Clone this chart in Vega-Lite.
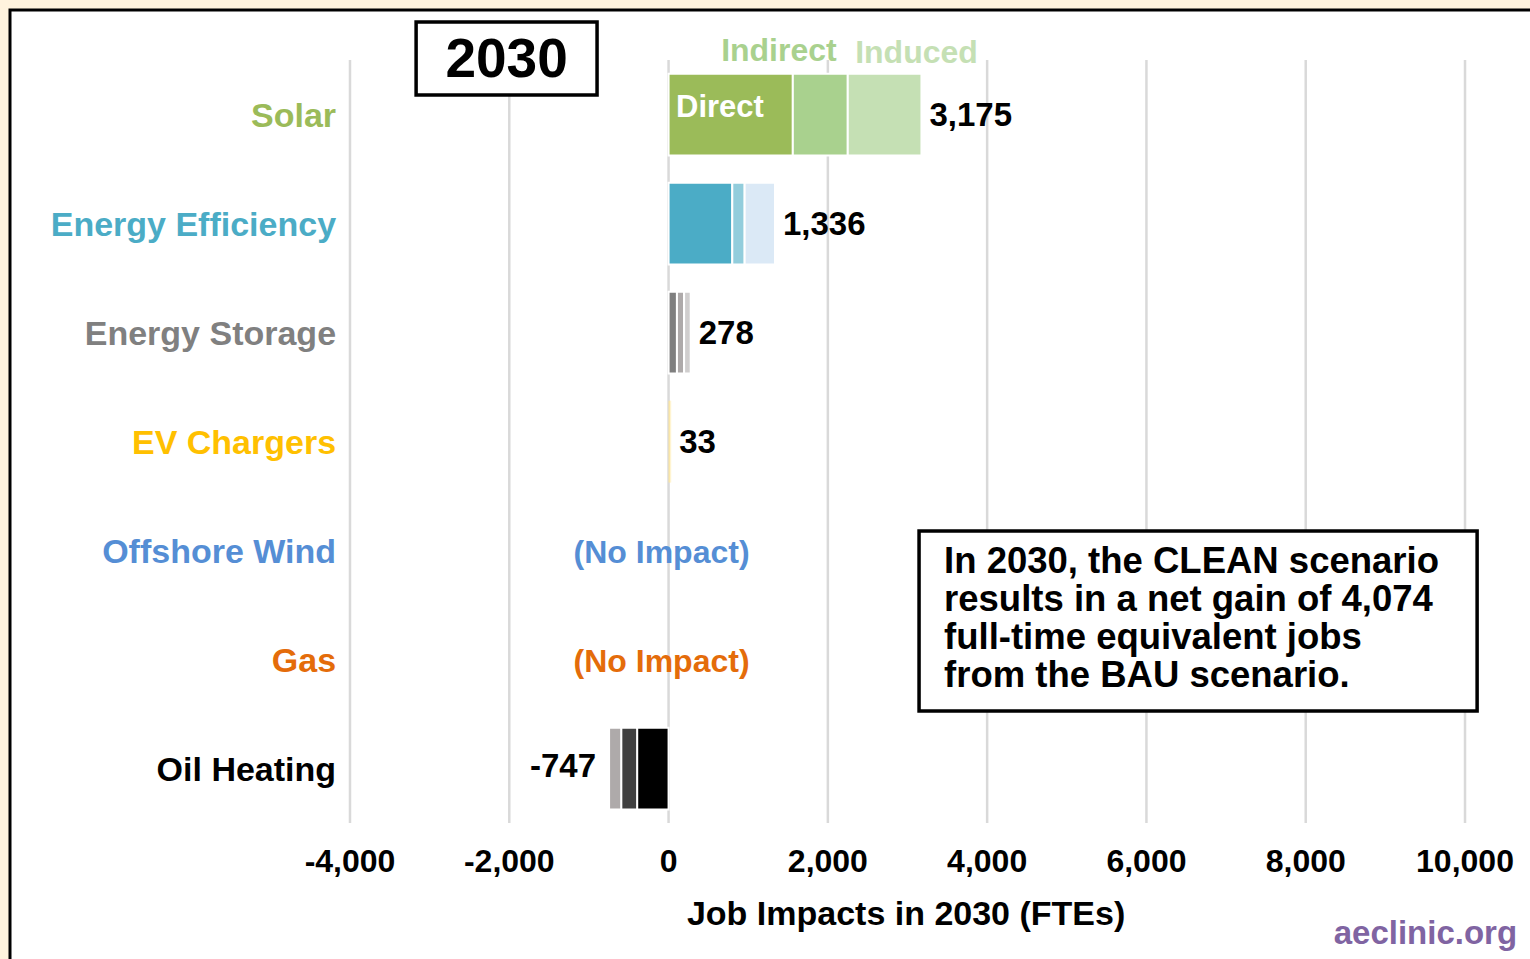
{
  "$schema": "https://vega.github.io/schema/vega-lite/v6.json",
  "autosize": {"type": "none"},
  "width": 1520,
  "height": 949,
  "padding": {"left": 10, "top": 10, "right": 0, "bottom": 0},
  "background": "#fff3dd",
  "config": {
    "view": {"fill": "#ffffff", "stroke": "#000000", "strokeWidth": 3, "strokeDash": [1520, 2469, 949, 10]},
    "font": "Liberation Sans",
    "text": {"font": "Liberation Sans", "fontWeight": "bold"},
    "locale": {"number": {"decimal": ".", "thousands": ",", "grouping": [3], "currency": ["$", ""], "minus": "-"}}
  },
  "datasets": {
    "bars": [
      {"cat": "Solar", "type": "Direct", "value": 1560},
      {"cat": "Solar", "type": "Indirect", "value": 690},
      {"cat": "Solar", "type": "Induced", "value": 925},
      {"cat": "Energy Efficiency", "type": "Direct", "value": 800},
      {"cat": "Energy Efficiency", "type": "Indirect", "value": 155},
      {"cat": "Energy Efficiency", "type": "Induced", "value": 381},
      {"cat": "Energy Storage", "type": "Direct", "value": 105},
      {"cat": "Energy Storage", "type": "Indirect", "value": 90},
      {"cat": "Energy Storage", "type": "Induced", "value": 83},
      {"cat": "EV Chargers", "type": "Direct", "value": 15},
      {"cat": "EV Chargers", "type": "Indirect", "value": 8},
      {"cat": "EV Chargers", "type": "Induced", "value": 10},
      {"cat": "Oil Heating", "type": "Direct", "value": -395},
      {"cat": "Oil Heating", "type": "Indirect", "value": -200},
      {"cat": "Oil Heating", "type": "Induced", "value": -152}
    ],
    "totals": [
      {"cat": "Solar", "total": 3175},
      {"cat": "Energy Efficiency", "total": 1336},
      {"cat": "Energy Storage", "total": 278},
      {"cat": "EV Chargers", "total": 33},
      {"cat": "Oil Heating", "total": -747}
    ],
    "cats": [
      {"cat": "Solar"},
      {"cat": "Energy Efficiency"},
      {"cat": "Energy Storage"},
      {"cat": "EV Chargers"},
      {"cat": "Offshore Wind"},
      {"cat": "Gas"},
      {"cat": "Oil Heating"}
    ],
    "noimpact": [
      {"cat": "Offshore Wind", "label": "(No Impact)"},
      {"cat": "Gas", "label": "(No Impact)"}
    ],
    "ticks": [
      {"tick": -4000}, {"tick": -2000}, {"tick": 0}, {"tick": 2000},
      {"tick": 4000}, {"tick": 6000}, {"tick": 8000}, {"tick": 10000}
    ],
    "notes": [
      {"id": "year", "label": "2030"},
      {"id": "summary", "label": "In 2030, the CLEAN scenario\nresults in a net gain of 4,074\nfull-time equivalent jobs\nfrom the BAU scenario."},
      {"id": "direct", "label": "Direct"},
      {"id": "indirect", "label": "Indirect"},
      {"id": "induced", "label": "Induced"},
      {"id": "xtitle", "label": "Job Impacts in 2030 (FTEs)"},
      {"id": "site", "label": "aeclinic.org"}
    ]
  },
  "resolve": {"scale": {"color": "independent"}},
  "layer": [
    {
      "data": {"name": "ticks"},
      "mark": {"type": "rule", "color": "#d9d9d9", "strokeWidth": 2.5},
      "encoding": {
        "x": {"field": "tick", "type": "quantitative",
          "scale": {"domain": [-8269, 10816], "nice": false, "zero": false}, "axis": null},
        "y": {"datum": "Solar", "type": "nominal", "bandPosition": -0.166,
          "scale": {"domain": ["Solar", "Energy Efficiency", "Energy Storage", "EV Chargers", "Offshore Wind", "Gas", "Oil Heating"], "range": [50, 813], "paddingInner": 0.25, "paddingOuter": 0.125}, "axis": null},
        "y2": {"datum": "Oil Heating", "bandPosition": 1.166}
      }
    },
    {
      "data": {"name": "ticks"},
      "mark": {"type": "text", "align": "center", "baseline": "middle", "dy": 93.5, "fontSize": 32, "color": "#000000"},
      "encoding": {
        "x": {"field": "tick", "type": "quantitative", "scale": {"domain": [-8269, 10816], "nice": false, "zero": false}, "axis": null},
        "y": {"datum": "Oil Heating", "type": "nominal",
          "scale": {"domain": ["Solar", "Energy Efficiency", "Energy Storage", "EV Chargers", "Offshore Wind", "Gas", "Oil Heating"], "range": [50, 813], "paddingInner": 0.25, "paddingOuter": 0.125}, "axis": null},
        "text": {"field": "tick", "type": "quantitative", "format": ","}
      }
    },
    {
      "data": {"name": "notes"},
      "transform": [{"filter": "datum.id == 'xtitle'"}],
      "mark": {"type": "text", "align": "center", "baseline": "middle", "dy": 146.5, "fontSize": 34, "color": "#000000"},
      "encoding": {
        "x": {"datum": 2982, "type": "quantitative", "scale": {"domain": [-8269, 10816], "nice": false, "zero": false}, "axis": null},
        "y": {"datum": "Oil Heating", "type": "nominal",
          "scale": {"domain": ["Solar", "Energy Efficiency", "Energy Storage", "EV Chargers", "Offshore Wind", "Gas", "Oil Heating"], "range": [50, 813], "paddingInner": 0.25, "paddingOuter": 0.125}, "axis": null},
        "text": {"field": "label", "type": "nominal"}
      }
    },
    {
      "data": {"name": "bars"},
      "transform": [{"calculate": "datum.cat + '|' + datum.type", "as": "seg"}],
      "mark": {"type": "bar", "stroke": "#ffffff"},
      "encoding": {
        "x": {"field": "value", "type": "quantitative", "stack": "zero", "scale": {"domain": [-8269, 10816], "nice": false, "zero": false}, "axis": null},
        "y": {"field": "cat", "type": "nominal",
          "scale": {"domain": ["Solar", "Energy Efficiency", "Energy Storage", "EV Chargers", "Offshore Wind", "Gas", "Oil Heating"], "range": [50, 813], "paddingInner": 0.25, "paddingOuter": 0.125}, "axis": null},
        "order": {"field": "type", "sort": "ascending"},
        "strokeWidth": {"condition": {"test": "datum.cat == 'EV Chargers'", "value": 0}, "value": 2},
        "color": {"field": "seg", "type": "nominal", "legend": null,
          "scale": {
            "domain": ["Solar|Direct", "Solar|Indirect", "Solar|Induced",
              "Energy Efficiency|Direct", "Energy Efficiency|Indirect", "Energy Efficiency|Induced",
              "Energy Storage|Direct", "Energy Storage|Indirect", "Energy Storage|Induced",
              "EV Chargers|Direct", "EV Chargers|Indirect", "EV Chargers|Induced",
              "Oil Heating|Direct", "Oil Heating|Indirect", "Oil Heating|Induced"],
            "range": ["#9bbb59", "#a9d18e", "#c5e0b4",
              "#4bacc6", "#92cddc", "#dbe9f6",
              "#7f7f7f", "#aeaaaa", "#d0cece",
              "#ffe699", "#ffeaa6", "#fff2cc",
              "#000000", "#404040", "#aeaaaa"]}}
      }
    },
    {
      "data": {"name": "totals"},
      "transform": [{"filter": "datum.total >= 0"}],
      "mark": {"type": "text", "align": "left", "baseline": "middle", "dx": 8, "dy": 1, "fontSize": 33, "color": "#000000"},
      "encoding": {
        "x": {"field": "total", "type": "quantitative", "scale": {"domain": [-8269, 10816], "nice": false, "zero": false}, "axis": null},
        "y": {"field": "cat", "type": "nominal",
          "scale": {"domain": ["Solar", "Energy Efficiency", "Energy Storage", "EV Chargers", "Offshore Wind", "Gas", "Oil Heating"], "range": [50, 813], "paddingInner": 0.25, "paddingOuter": 0.125}, "axis": null},
        "text": {"field": "total", "type": "quantitative", "format": ","}
      }
    },
    {
      "data": {"name": "totals"},
      "transform": [{"filter": "datum.total < 0"}],
      "mark": {"type": "text", "align": "right", "baseline": "middle", "dx": -13, "dy": -2, "fontSize": 33, "color": "#000000"},
      "encoding": {
        "x": {"field": "total", "type": "quantitative", "scale": {"domain": [-8269, 10816], "nice": false, "zero": false}, "axis": null},
        "y": {"field": "cat", "type": "nominal",
          "scale": {"domain": ["Solar", "Energy Efficiency", "Energy Storage", "EV Chargers", "Offshore Wind", "Gas", "Oil Heating"], "range": [50, 813], "paddingInner": 0.25, "paddingOuter": 0.125}, "axis": null},
        "text": {"field": "total", "type": "quantitative", "format": ","}
      }
    },
    {
      "data": {"name": "cats"},
      "mark": {"type": "text", "align": "right", "baseline": "middle", "dy": 2, "fontSize": 34},
      "encoding": {
        "x": {"datum": -4175, "type": "quantitative", "scale": {"domain": [-8269, 10816], "nice": false, "zero": false}, "axis": null},
        "y": {"field": "cat", "type": "nominal",
          "scale": {"domain": ["Solar", "Energy Efficiency", "Energy Storage", "EV Chargers", "Offshore Wind", "Gas", "Oil Heating"], "range": [50, 813], "paddingInner": 0.25, "paddingOuter": 0.125}, "axis": null},
        "text": {"field": "cat", "type": "nominal"},
        "color": {"field": "cat", "type": "nominal", "legend": null,
          "scale": {"domain": ["Solar", "Energy Efficiency", "Energy Storage", "EV Chargers", "Offshore Wind", "Gas", "Oil Heating"],
            "range": ["#9bbb59", "#4bacc6", "#808080", "#ffc000", "#558ed5", "#e46c0a", "#000000"]}}
      }
    },
    {
      "data": {"name": "noimpact"},
      "mark": {"type": "text", "align": "center", "baseline": "middle", "dx": -7, "dy": 2, "fontSize": 32},
      "encoding": {
        "x": {"datum": 0, "type": "quantitative", "scale": {"domain": [-8269, 10816], "nice": false, "zero": false}, "axis": null},
        "y": {"field": "cat", "type": "nominal",
          "scale": {"domain": ["Solar", "Energy Efficiency", "Energy Storage", "EV Chargers", "Offshore Wind", "Gas", "Oil Heating"], "range": [50, 813], "paddingInner": 0.25, "paddingOuter": 0.125}, "axis": null},
        "text": {"field": "label", "type": "nominal"},
        "color": {"field": "cat", "type": "nominal", "legend": null,
          "scale": {"domain": ["Solar", "Energy Efficiency", "Energy Storage", "EV Chargers", "Offshore Wind", "Gas", "Oil Heating"],
            "range": ["#9bbb59", "#4bacc6", "#808080", "#ffc000", "#558ed5", "#e46c0a", "#000000"]}}
      }
    },
    {
      "data": {"name": "notes"},
      "transform": [{"filter": "datum.id == 'direct'"}],
      "mark": {"type": "text", "align": "left", "baseline": "middle", "dy": -7, "fontSize": 31, "color": "#ffffff"},
      "encoding": {
        "x": {"datum": 94, "type": "quantitative", "scale": {"domain": [-8269, 10816], "nice": false, "zero": false}, "axis": null},
        "y": {"datum": "Solar", "type": "nominal",
          "scale": {"domain": ["Solar", "Energy Efficiency", "Energy Storage", "EV Chargers", "Offshore Wind", "Gas", "Oil Heating"], "range": [50, 813], "paddingInner": 0.25, "paddingOuter": 0.125}, "axis": null},
        "text": {"field": "label", "type": "nominal"}
      }
    },
    {
      "data": {"name": "notes"},
      "transform": [{"filter": "datum.id == 'indirect'"}],
      "mark": {"type": "text", "align": "left", "baseline": "middle", "dy": -64, "fontSize": 32, "color": "#a9d18e"},
      "encoding": {
        "x": {"datum": 660, "type": "quantitative", "scale": {"domain": [-8269, 10816], "nice": false, "zero": false}, "axis": null},
        "y": {"datum": "Solar", "type": "nominal",
          "scale": {"domain": ["Solar", "Energy Efficiency", "Energy Storage", "EV Chargers", "Offshore Wind", "Gas", "Oil Heating"], "range": [50, 813], "paddingInner": 0.25, "paddingOuter": 0.125}, "axis": null},
        "text": {"field": "label", "type": "nominal"}
      }
    },
    {
      "data": {"name": "notes"},
      "transform": [{"filter": "datum.id == 'induced'"}],
      "mark": {"type": "text", "align": "left", "baseline": "middle", "dy": -62, "fontSize": 32, "color": "#c5e0b4"},
      "encoding": {
        "x": {"datum": 2343, "type": "quantitative", "scale": {"domain": [-8269, 10816], "nice": false, "zero": false}, "axis": null},
        "y": {"datum": "Solar", "type": "nominal",
          "scale": {"domain": ["Solar", "Energy Efficiency", "Energy Storage", "EV Chargers", "Offshore Wind", "Gas", "Oil Heating"], "range": [50, 813], "paddingInner": 0.25, "paddingOuter": 0.125}, "axis": null},
        "text": {"field": "label", "type": "nominal"}
      }
    },
    {
      "data": {"name": "notes"},
      "transform": [{"filter": "datum.id == 'year'"}],
      "mark": {"type": "bar", "height": 73, "yOffset": -56, "fill": "#ffffff", "stroke": "#000000", "strokeWidth": 3.5},
      "encoding": {
        "x": {"datum": -3170, "type": "quantitative", "scale": {"domain": [-8269, 10816], "nice": false, "zero": false}, "axis": null},
        "x2": {"datum": -898},
        "y": {"datum": "Solar", "type": "nominal",
          "scale": {"domain": ["Solar", "Energy Efficiency", "Energy Storage", "EV Chargers", "Offshore Wind", "Gas", "Oil Heating"], "range": [50, 813], "paddingInner": 0.25, "paddingOuter": 0.125}, "axis": null}
      }
    },
    {
      "data": {"name": "notes"},
      "transform": [{"filter": "datum.id == 'year'"}],
      "mark": {"type": "text", "align": "center", "baseline": "middle", "dy": -55, "fontSize": 55, "color": "#000000"},
      "encoding": {
        "x": {"datum": -2034, "type": "quantitative", "scale": {"domain": [-8269, 10816], "nice": false, "zero": false}, "axis": null},
        "y": {"datum": "Solar", "type": "nominal",
          "scale": {"domain": ["Solar", "Energy Efficiency", "Energy Storage", "EV Chargers", "Offshore Wind", "Gas", "Oil Heating"], "range": [50, 813], "paddingInner": 0.25, "paddingOuter": 0.125}, "axis": null},
        "text": {"field": "label", "type": "nominal"}
      }
    },
    {
      "data": {"name": "notes"},
      "transform": [{"filter": "datum.id == 'summary'"}],
      "mark": {"type": "bar", "height": 180, "yOffset": -38.5, "fill": "#ffffff", "stroke": "#000000", "strokeWidth": 3.5},
      "encoding": {
        "x": {"datum": 3145, "type": "quantitative", "scale": {"domain": [-8269, 10816], "nice": false, "zero": false}, "axis": null},
        "x2": {"datum": 10152},
        "y": {"datum": "Gas", "type": "nominal",
          "scale": {"domain": ["Solar", "Energy Efficiency", "Energy Storage", "EV Chargers", "Offshore Wind", "Gas", "Oil Heating"], "range": [50, 813], "paddingInner": 0.25, "paddingOuter": 0.125}, "axis": null}
      }
    },
    {
      "data": {"name": "notes"},
      "transform": [{"filter": "datum.id == 'summary'"}],
      "mark": {"type": "text", "align": "left", "baseline": "middle", "dy": -98, "fontSize": 36.5, "lineHeight": 38, "lineBreak": "\n", "color": "#000000"},
      "encoding": {
        "x": {"datum": 3459, "type": "quantitative", "scale": {"domain": [-8269, 10816], "nice": false, "zero": false}, "axis": null},
        "y": {"datum": "Gas", "type": "nominal",
          "scale": {"domain": ["Solar", "Energy Efficiency", "Energy Storage", "EV Chargers", "Offshore Wind", "Gas", "Oil Heating"], "range": [50, 813], "paddingInner": 0.25, "paddingOuter": 0.125}, "axis": null},
        "text": {"field": "label", "type": "nominal"}
      }
    },
    {
      "data": {"name": "notes"},
      "transform": [{"filter": "datum.id == 'site'"}],
      "mark": {"type": "text", "align": "right", "baseline": "middle", "dy": 165, "fontSize": 33, "color": "#8064a2"},
      "encoding": {
        "x": {"datum": 10654, "type": "quantitative", "scale": {"domain": [-8269, 10816], "nice": false, "zero": false}, "axis": null},
        "y": {"datum": "Oil Heating", "type": "nominal",
          "scale": {"domain": ["Solar", "Energy Efficiency", "Energy Storage", "EV Chargers", "Offshore Wind", "Gas", "Oil Heating"], "range": [50, 813], "paddingInner": 0.25, "paddingOuter": 0.125}, "axis": null},
        "text": {"field": "label", "type": "nominal"}
      }
    }
  ]
}
